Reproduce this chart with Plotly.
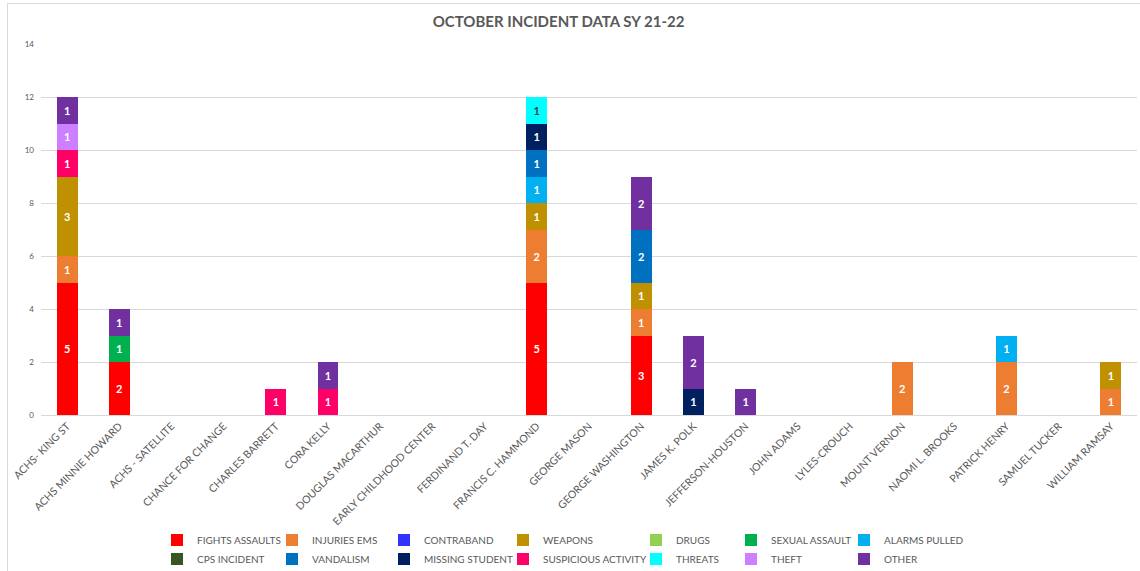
import plotly.graph_objects as go

schools = ["ACHS- KING ST", "ACHS MINNIE HOWARD", "ACHS - SATELLITE", "CHANCE FOR CHANGE",
           "CHARLES BARRETT", "CORA KELLY", "DOUGLAS MACARTHUR", "EARLY CHILDHOOD CENTER",
           "FERDINAND T. DAY", "FRANCIS C. HAMMOND", "GEORGE MASON", "GEORGE WASHINGTON",
           "JAMES K. POLK", "JEFFERSON-HOUSTON", "JOHN ADAMS", "LYLES-CROUCH", "MOUNT VERNON",
           "NAOMI L. BROOKS", "PATRICK HENRY", "SAMUEL TUCKER", "WILLIAM RAMSAY"]

fights_assaults     = [5, 2, 0, 0, 0, 0, 0, 0, 0, 5, 0, 3, 0, 0, 0, 0, 0, 0, 0, 0, 0]
injuries_ems        = [1, 0, 0, 0, 0, 0, 0, 0, 0, 2, 0, 1, 0, 0, 0, 0, 2, 0, 2, 0, 1]
contraband          = [0] * 21
weapons             = [3, 0, 0, 0, 0, 0, 0, 0, 0, 1, 0, 1, 0, 0, 0, 0, 0, 0, 0, 0, 1]
drugs               = [0] * 21
sexual_assault      = [0, 1, 0, 0, 0, 0, 0, 0, 0, 0, 0, 0, 0, 0, 0, 0, 0, 0, 0, 0, 0]
alarms_pulled       = [0, 0, 0, 0, 0, 0, 0, 0, 0, 1, 0, 0, 0, 0, 0, 0, 0, 0, 1, 0, 0]
cps_incident        = [0] * 21
vandalism           = [0, 0, 0, 0, 0, 0, 0, 0, 0, 1, 0, 2, 0, 0, 0, 0, 0, 0, 0, 0, 0]
missing_student     = [0, 0, 0, 0, 0, 0, 0, 0, 0, 1, 0, 0, 1, 0, 0, 0, 0, 0, 0, 0, 0]
suspicious_activity = [1, 0, 0, 0, 1, 1, 0, 0, 0, 0, 0, 0, 0, 0, 0, 0, 0, 0, 0, 0, 0]
threats             = [0, 0, 0, 0, 0, 0, 0, 0, 0, 1, 0, 0, 0, 0, 0, 0, 0, 0, 0, 0, 0]
theft               = [1, 0, 0, 0, 0, 0, 0, 0, 0, 0, 0, 0, 0, 0, 0, 0, 0, 0, 0, 0, 0]
other               = [1, 1, 0, 0, 0, 1, 0, 0, 0, 0, 0, 2, 2, 1, 0, 0, 0, 0, 0, 0, 0]

# (name, values, colour, label colour, legend column)
series = [
    ("FIGHTS ASSAULTS", fights_assaults, "#FF0000", "white", 1),
    ("INJURIES EMS", injuries_ems, "#ED7D31", "white", 2),
    ("CONTRABAND", contraband, "#3333FF", "white", 3),
    ("WEAPONS", weapons, "#BF9000", "white", 4),
    ("DRUGS", drugs, "#92D050", "white", 5),
    ("SEXUAL ASSAULT", sexual_assault, "#00B050", "white", 6),
    ("ALARMS PULLED", alarms_pulled, "#00B0F0", "white", 7),
    ("CPS INCIDENT", cps_incident, "#375623", "white", 1),
    ("VANDALISM", vandalism, "#0070C0", "white", 2),
    ("MISSING STUDENT", missing_student, "#002060", "white", 3),
    ("SUSPICIOUS ACTIVITY", suspicious_activity, "#FF0066", "white", 4),
    ("THREATS", threats, "#00FFFF", "#404040", 5),
    ("THEFT", theft, "#CC80FF", "white", 6),
    ("OTHER", other, "#7030A0", "white", 7),
]

FONT = "Lato, 'Open Sans', sans-serif"
GRAY = "#595959"

W, H = 1140, 571
ML, MR, MT, MB = 41, 3, 44, 156
PW, PH = W - ML - MR, H - MT - MB


def px_x(p):
    return (p - ML) / PW


def px_y(p):
    return (H - MB - p) / PH


fig = go.Figure()
for name, vals, color, tcolor, col in series:
    y = [v if v else None for v in vals]
    fig.add_trace(go.Bar(
        name=name, x=schools, y=y,
        marker=dict(color=color, line=dict(width=0)),
        text=[str(v) if v else "" for v in vals],
        textposition="inside", insidetextanchor="middle",
        textangle=0,
        textfont=dict(color=tcolor, size=11, family=FONT, weight="bold"),
        legend="legend" if col == 1 else f"legend{col}",
    ))

leg_common = dict(orientation="v", xanchor="left", yanchor="top",
                  font=dict(size=10, color=GRAY, family=FONT),
                  itemwidth=30, bgcolor="rgba(0,0,0,0)", traceorder="normal",
                  itemclick=False, itemdoubleclick=False, tracegroupgap=0)

marker_cols = [177, 292, 404, 523, 656, 751, 864]
legends = {}
for i, mx in enumerate(marker_cols):
    key = "legend" if i == 0 else f"legend{i + 1}"
    legends[key] = dict(x=px_x(mx - 20), y=px_y(525.5), **leg_common)

fig.update_layout(
    width=W, height=H,
    barmode="stack", bargap=0.6,
    paper_bgcolor="white", plot_bgcolor="white",
    margin=dict(l=ML, r=MR, t=MT, b=MB, autoexpand=False),
    font=dict(family=FONT, color=GRAY),
    title=dict(text="<b>OCTOBER INCIDENT DATA SY 21-22</b>", x=px_x(578), xanchor="center",
               y=1 - 21.5 / H, yanchor="middle", font=dict(size=15, color=GRAY, family=FONT)),
    xaxis=dict(tickangle=-45, tickfont=dict(size=10.5, color=GRAY, family=FONT),
               showgrid=False, showline=True, linecolor="#D9D9D9", linewidth=1,
               ticks="", fixedrange=True),
    yaxis=dict(range=[0, 14], dtick=2, tickfont=dict(size=8, color=GRAY, family=FONT),
               showgrid=True, gridcolor="#D9D9D9", gridwidth=1, zeroline=False,
               showline=False, ticks="", ticklabelstandoff=6, fixedrange=True),
    showlegend=True,
    shapes=[dict(type="rect", xref="paper", yref="paper",
                 x0=px_x(7.5), x1=px_x(1150), y0=px_y(580), y1=px_y(3.5),
                 line=dict(color="#D9D9D9", width=1), fillcolor="rgba(0,0,0,0)",
                 layer="below")],
    **legends,
)

fig.write_html("out.html", config={"displayModeBar": False},
               post_script="document.body.style.margin='0';")
